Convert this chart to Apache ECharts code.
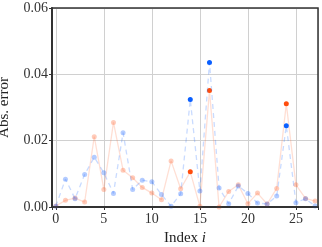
<!DOCTYPE html>
<html><head><meta charset="utf-8">
<script src="https://cdn.jsdelivr.net/npm/echarts@6/dist/echarts.min.js"></script>
<style>html,body{margin:0;padding:0;background:#fff}#c{width:322px;height:247px}</style>
</head><body><div id="c"></div>
<script>
const indices = [0,1,2,3,4,5,6,7,8,9,10,11,12,13,14,15,16,17,18,19,20,21,22,23,24,25,26,27];
const blueErr = [0.0002,0.0084,0.0025,0.0098,0.0150,0.0103,0.0041,0.0224,0.0053,0.0081,0.0076,0.0038,0.0002,0.0040,0.0324,0.0048,0.0436,0.0057,0.0010,0.0063,0.0041,0.0012,0.0009,0.0033,0.0245,0.0013,0.0025,0.0003];
const orangeErr = [0.0003,0.0020,0.0027,0.0015,0.0212,0.0053,0.0255,0.0111,0.0088,0.0059,0.0042,0.0022,0.0139,0.0055,0.0106,0.0002,0.0351,0.0000,0.0047,0.0067,0.0010,0.0042,0.0009,0.0056,0.0311,0.0067,0.0026,0.0018];
const highlightIdx = [14,16,24];
const yTicks = [0,0.02,0.04,0.06];

const font = 'Liberation Serif';
function pts(vals, faded, strong){
  return vals.map((v,i)=>({value:[indices[i],v], itemStyle:{color: highlightIdx.includes(i)?strong:faded}}));
}
const chart = echarts.init(document.getElementById('c'), null, {renderer:'canvas'});
chart.setOption({
  animation:false,
  grid:{left:52,right:4,top:8,bottom:40,containLabel:false,outerBoundsMode:'none'},
  xAxis:{type:'value',min:-0.4,max:27.3,splitNumber:5,minInterval:5,maxInterval:5,
    name:'Index {i|i}',nameLocation:'middle',nameGap:22,
    nameTextStyle:{fontFamily:font,fontSize:15,color:'#222',rich:{i:{fontFamily:font,fontSize:15,fontStyle:'italic',color:'#222'}}},
    axisLine:{show:true,onZero:false,lineStyle:{color:'#333',width:2}},
    axisTick:{show:true,length:3,lineStyle:{color:'#333'}},
    axisLabel:{fontFamily:font,fontSize:14,color:'#333',margin:5,
      formatter:v=>(Math.abs(v%5)<1e-9?String(v):'')},
    splitLine:{show:true,lineStyle:{color:'#d0d0d0',width:1}}},
  yAxis:{type:'value',min:yTicks[0],max:yTicks[yTicks.length-1],interval:0.02,
    name:'Abs. error',nameLocation:'middle',nameGap:40,
    nameTextStyle:{fontFamily:font,fontSize:15,color:'#222'},
    axisLine:{show:true,onZero:false,lineStyle:{color:'#333',width:2}},
    axisTick:{show:true,length:3,lineStyle:{color:'#333'}},
    axisLabel:{fontFamily:font,fontSize:14,color:'#333',margin:4,formatter:v=>v.toFixed(2)},
    splitLine:{show:true,lineStyle:{color:'#d0d0d0',width:1}}},
  series:[
    {type:'line',data:pts(orangeErr,'rgba(255,110,60,0.35)','#ff4d0d'),symbol:'circle',symbolSize:5,
     lineStyle:{color:'rgba(255,110,60,0.22)',width:1.3,type:'solid'},z:2},
    {type:'line',data:pts(blueErr,'rgba(40,110,255,0.35)','#0a5fff'),symbol:'circle',symbolSize:5,
     lineStyle:{color:'rgba(40,110,255,0.25)',width:1.3,type:[5,4]},z:3}
  ],
  graphic:[{type:'rect',shape:{x:52,y:8,width:266,height:199},style:{fill:null,stroke:'#333',lineWidth:1.5},silent:true,z:100}]
});
</script></body></html>
